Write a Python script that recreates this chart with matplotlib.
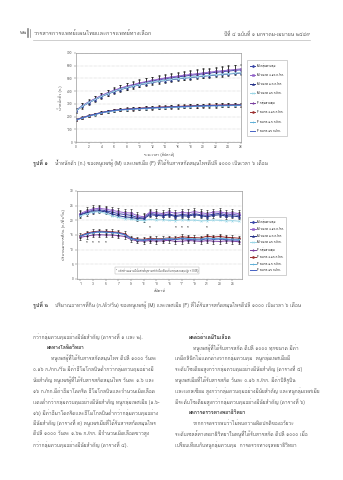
import matplotlib
matplotlib.use("Agg")
import matplotlib.pyplot as plt
from matplotlib import font_manager
from matplotlib.ft2font import FT2Font

# ---- data -----------------------------------------------------------
WEEKS_BW = list(range(0, 27))
BW_M_CTRL = [247, 283, 313, 338, 362, 385, 403, 420, 434, 447, 459, 470, 480, 489,
             497, 505, 512, 518, 524, 530, 536, 542, 548, 553, 558, 563, 568]
BW_M_D1 = [249, 286, 316, 341, 366, 388, 407, 424, 439, 452, 464, 475, 485, 494,
           503, 511, 518, 525, 531, 537, 543, 549, 555, 560, 565, 570, 575]
BW_M_D2 = [245, 280, 309, 333, 357, 378, 396, 412, 426, 438, 449, 459, 468, 476,
           483, 490, 496, 502, 507, 512, 517, 522, 527, 531, 535, 539, 543]
BW_M_D3 = [246, 281, 311, 335, 359, 381, 399, 415, 429, 441, 452, 462, 471, 479,
           486, 493, 499, 505, 510, 515, 520, 525, 530, 534, 538, 542, 546]
BW_F_CTRL = [174, 190, 205, 218, 230, 240, 248, 253, 257, 260, 263, 266, 268, 271,
             273, 275, 277, 279, 281, 283, 284, 286, 287, 288, 289, 290, 291]
BW_F_D1 = [176, 192, 207, 220, 232, 242, 250, 255, 259, 263, 266, 269, 271, 274,
           276, 278, 280, 282, 284, 286, 287, 289, 290, 291, 292, 293, 294]
BW_F_D2 = [172, 188, 203, 216, 228, 238, 246, 251, 255, 258, 261, 263, 266, 268,
           270, 272, 274, 276, 278, 280, 281, 283, 284, 285, 286, 287, 288]
BW_F_D3 = [175, 191, 206, 219, 231, 241, 249, 254, 258, 261, 264, 267, 269, 272,
           274, 276, 278, 280, 282, 284, 285, 287, 288, 289, 290, 291, 292]
BW_SD_M = [18, 20, 21, 22, 23, 24, 25, 26, 27, 28, 29, 30, 30, 31, 32, 32, 33, 34,
           34, 35, 36, 36, 37, 38, 38, 39, 40]
BW_SD_F = [10, 10, 11, 11, 12, 12, 12, 13, 13, 13, 13, 14, 14, 14, 14, 14, 15, 15,
           15, 15, 15, 16, 16, 16, 16, 16, 16]

WEEKS_FI = list(range(1, 27))
FI_M_CTRL = [22.0, 22.8, 23.4, 23.6, 23.3, 22.8, 22.3, 22.0, 21.7, 21.0, 20.8, 22.4, 22.0,
             21.8, 22.2, 21.6, 22.0, 21.8, 22.3, 21.9, 21.7, 22.1, 22.4, 21.8, 22.0, 21.7]
FI_M_D1 = [22.3, 23.2, 23.9, 24.1, 23.8, 23.4, 23.0, 22.6, 22.5, 21.6, 21.2, 22.8, 22.6,
           22.3, 22.9, 22.4, 22.7, 22.5, 23.0, 22.6, 22.3, 22.8, 22.9, 22.4, 22.6, 22.3]
FI_M_D2 = [21.8, 22.5, 23.0, 23.2, 22.9, 22.2, 21.6, 21.2, 21.0, 20.6, 20.5, 21.9, 21.7,
           21.5, 21.9, 21.3, 21.6, 21.4, 21.9, 21.6, 21.2, 21.7, 21.9, 21.4, 21.5, 21.2]
FI_M_D3 = [21.5, 22.2, 22.8, 22.9, 22.4, 21.6, 21.0, 20.6, 20.4, 20.0, 19.9, 20.3, 20.1,
           20.2, 20.0, 19.9, 20.2, 20.0, 20.1, 19.8, 19.9, 20.1, 20.0, 19.8, 19.9, 19.7]
FI_F_CTRL = [14.2, 14.6, 15.0, 15.1, 15.0, 15.0, 14.8, 14.5, 13.5, 13.0, 12.9, 13.1, 12.9,
             13.0, 13.2, 12.8, 12.9, 13.1, 13.0, 12.8, 13.1, 12.9, 12.8, 13.0, 12.9, 12.7]
FI_F_D1 = [14.8, 15.6, 16.1, 16.3, 16.2, 16.1, 15.9, 15.4, 14.0, 13.6, 13.5, 13.9, 13.7,
           13.8, 14.0, 13.9, 14.4, 14.2, 14.1, 14.0, 14.6, 14.3, 14.5, 14.2, 14.1, 13.9]
FI_F_D2 = [14.6, 15.3, 15.8, 16.0, 15.9, 15.8, 15.6, 15.1, 13.8, 13.4, 13.3, 13.6, 13.5,
           13.6, 13.8, 13.6, 13.9, 13.8, 13.7, 13.6, 14.0, 13.8, 13.9, 13.7, 13.6, 13.5]
FI_F_D3 = [14.5, 15.4, 15.9, 16.1, 16.0, 15.9, 15.7, 15.2, 13.9, 13.3, 13.2, 13.5, 13.3,
           13.4, 13.6, 13.4, 13.7, 13.5, 13.4, 13.3, 13.7, 13.5, 13.6, 13.4, 13.3, 13.2]
FI_SD_M = 1.2
FI_SD_F = 0.8
# weeks marked with * (significant vs control)
STAR_LOW_WEEKS = [2, 3, 4, 5]
STAR_LOW_Y = 12.4
STAR_MID_WEEKS = [12, 16, 17, 18, 21]
STAR_MID_Y = 17.3

LABELS = ["M กลุ่มควบคุม", "M ขนาด ๐.๑๖ ก./กก.", "M ขนาด ๑.๖ ก./กก.", "M ขนาด ๑๖ ก./กก.",
          "F กลุ่มควบคุม", "F ขนาด ๐.๑๖ ก./กก.", "F ขนาด ๑.๖ ก./กก.", "F ขนาด ๑๖ ก./กก."]

HEADER_LEFT = "วารสารการแพทย์แผนไทยและการแพทย์ทางเลือก"
HEADER_RIGHT = "ปีที่ ๔ ฉบับที่ ๑ มกราคม-เมษายน ๒๕๔๙"
CAP1 = ("น้ำหนักตัว (ก.) ของหนูเพศผู้ (M) และเพศเมีย (F) ที่ได้รับสารสกัดสมุนไพรดีปลี "
        "๑๐๐๐ เป็นเวลา ๖ เดือน")
CAP2 = ("ปริมาณอาหารที่กิน (ก./ตัว/วัน) ของหนูเพศผู้ (M) และเพศเมีย (F) "
        "ที่ได้รับสารสกัดสมุนไพรดีปลี ๑๐๐๐ เป็นเวลา ๖ เดือน")
NOTE = "* แตกต่างอย่างมีนัยสำคัญทางสถิติเมื่อเทียบกับกลุ่มควบคุม (p < 0.05)"

LEFT_COL = [
    ("กว่ากลุ่มควบคุมอย่างมีนัยสำคัญ (ตารางที่ ๑ และ ๒).", 0, False),
    ("ผลทางโลหิตวิทยา", 1, True),
    ("หนูเพศผู้ที่ได้รับสารสกัดสมุนไพร ดีปลี ๑๐๐๐ วันละ", 2, False),
    ("๐.๑๖ ก./กก./วัน มีค่าฮีโมโกลบินต่ำกว่ากลุ่มควบคุมอย่างมี", 0, False),
    ("นัยสำคัญ หนูเพศผู้ที่ได้รับสารสกัดสมุนไพร วันละ ๑.๖ และ", 0, False),
    ("๑๖ ก./กก.มีค่าฮีมาโตคริต ฮีโมโกลบินและจำนวนเม็ดเลือด", 0, False),
    ("แดงต่ำกว่ากลุ่มควบคุมอย่างมีนัยสำคัญ หนูกลุ่มเพศเมีย (๑.๖-", 0, False),
    ("๑๖) มีค่าฮีมาโตคริตและฮีโมโกลบินต่ำกว่ากลุ่มควบคุมอย่าง", 0, False),
    ("มีนัยสำคัญ (ตารางที่ ๓) หนูเพศเมียที่ได้รับสารสกัดสมุนไพร", 0, False),
    ("ดีปลี ๑๐๐๐ วันละ ๑.๖๒ ก./กก. มีจำนวนเม็ดเลือดขาวสูง", 0, False),
    ("กว่ากลุ่มควบคุมอย่างมีนัยสำคัญ (ตารางที่ ๔).", 0, False),
]
RIGHT_COL = [
    ("ผลต่อค่าเคมีในเลือด", 1, True),
    ("หนูเพศผู้ที่ได้รับสารสกัด ดีปลี ๑๐๐๐ ทุกขนาด มีค่า", 2, False),
    ("เคมีคลินิกไม่แตกต่างจากกลุ่มควบคุม  หนูกลุ่มเพศเมียมี", 0, False),
    ("ระดับโซเดียมสูงกว่ากลุ่มควบคุมอย่างมีนัยสำคัญ (ตารางที่ ๕)", 0, False),
    ("หนูเพศเมียที่ได้รับสารสกัด วันละ ๐.๑๖ ก./กก. มีค่าบิลิรูบิน", 0, False),
    ("และแคลเซียม สูงกว่ากลุ่มควบคุมอย่างมีนัยสำคัญ และหนูกลุ่มเพศเมีย", 0, False),
    ("มีระดับโซเดียมสูงกว่ากลุ่มควบคุมอย่างมีนัยสำคัญ (ตารางที่ ๖)", 0, False),
    ("ผลการตรวจทางพยาธิวิทยา", 1, True),
    ("จากการตรวจพบว่าไม่พบความผิดปกติของอวัยวะ", 2, False),
    ("ระดับเซลล์ทางพยาธิวิทยาในหนูที่ได้รับสารสกัด ดีปลี ๑๐๐๐ เมื่อ", 0, False),
    ("เปรียบเทียบกับหนูกลุ่มควบคุม  การตรวจทางจุลพยาธิวิทยา", 0, False),
]

COLORS = ["#3b48a8", "#9263c8", "#26338a", "#9ad6e6", "#7a3fa0", "#9c2f2f", "#5fb0d8", "#4662c4"]
MARKERS = ["D", "s", "^", "x", "*", "o", "+", ""]


def thai_font():
    # first installed family that actually has Thai glyphs
    for f in font_manager.fontManager.ttflist:
        try:
            if FT2Font(f.fname).get_char_index(0x0E01):
                return f.name
        except Exception:
            continue
    return "DejaVu Sans"


TH = thai_font()
plt.rcParams["font.family"] = [TH, "DejaVu Sans"]

W, H = 343, 480
fig = plt.figure(figsize=(W / 100, H / 100), dpi=100)


def px(x, y):
    return x / W, 1 - y / H


def put(x, y, s, **kw):
    fx, fy = px(x, y)
    fig.text(fx, fy, s, **kw)


TXT = "#555555"

# header
put(20, 33, "๒๒", fontsize=4, color=TXT, va="center")
fig.add_artist(plt.Line2D([28 / W, 28 / W], px(0, 29)[1:] + px(0, 37)[1:],
                          color="#888888", lw=1.2))
fig.add_artist(plt.Line2D([30 / W, 30 / W], px(0, 29)[1:] + px(0, 37)[1:],
                          color="#888888", lw=0.5))
put(34, 33, HEADER_LEFT, fontsize=4, color=TXT, va="center")
put(310, 34, HEADER_RIGHT, fontsize=3.6, color=TXT, va="center", ha="right")
fig.add_artist(plt.Line2D([33 / W, 310 / W], [1 - 40 / H, 1 - 40 / H], color="#bbbbbb", lw=0.5))


def style_axes(ax):
    for sp in ax.spines.values():
        sp.set_color("#9a9a9a")
        sp.set_linewidth(0.5)
    ax.tick_params(labelsize=2.4, length=1.2, width=0.3, pad=1.2, colors="#555555")
    ax.yaxis.grid(True, ls=":", lw=0.35, color="#aaaaaa")
    ax.set_axisbelow(True)


def draw_series(ax, x, ys, sds):
    handles = []
    for i, y in enumerate(ys):
        h, = ax.plot(x, y, color=COLORS[i], marker=MARKERS[i], ms=1.4, mew=0.4, lw=0.7,
                     label=LABELS[i])
        handles.append(h)
        if sds[i] is not None:
            ax.errorbar(x, y, yerr=sds[i], fmt="none", ecolor="#111111", elinewidth=0.4,
                        capsize=0.9, capthick=0.4)
    return handles


def small_legend(handles, x, y, spacing, pad):
    lg = fig.legend(handles=handles, loc="upper left", bbox_to_anchor=px(x, y), fontsize=2.1,
                    frameon=True, handlelength=1.8, handletextpad=0.5, labelspacing=spacing,
                    borderpad=pad, borderaxespad=0, fancybox=False, edgecolor="#9a9a9a")
    lg.get_frame().set_linewidth(0.4)
    return lg


# ---- figure 1: body weight -----------------------------------------
l, b = px(76, 142)
ax1 = fig.add_axes([l, b, 165 / W, 89 / H])
h1 = draw_series(ax1, WEEKS_BW,
                 [BW_M_CTRL, BW_M_D1, BW_M_D2, BW_M_D3, BW_F_CTRL, BW_F_D1, BW_F_D2, BW_F_D3],
                 [BW_SD_M, BW_SD_M, None, None, BW_SD_F, BW_SD_F, None, None])
ax1.set_xlim(0, 26)
ax1.set_ylim(0, 700)
ax1.set_xticks(range(0, 27, 2))
ax1.set_yticks(range(0, 701, 100))
style_axes(ax1)
ax1.set_xlabel("ระยะเวลา (สัปดาห์)", fontsize=2.6, labelpad=2, color="#444444")
ax1.set_ylabel("น้ำหนักตัว (ก.)", fontsize=2.8, labelpad=3, color="#444444")
small_legend(h1, 247, 60, 1.75, 1.1)

put(33, 163, "รูปที่ ๑", fontsize=3.8, fontweight="bold", color="#333333", va="center")
put(55, 163, CAP1, fontsize=3.5, color=TXT, va="center")

# ---- figure 2: food intake -----------------------------------------
l, b = px(77, 279)
ax2 = fig.add_axes([l, b, 165 / W, 88 / H])
h2 = draw_series(ax2, WEEKS_FI,
                 [FI_M_CTRL, FI_M_D1, FI_M_D2, FI_M_D3, FI_F_CTRL, FI_F_D1, FI_F_D2, FI_F_D3],
                 [FI_SD_M, FI_SD_M, None, None, FI_SD_F, FI_SD_F, None, None])
ax2.set_xlim(0.5, 26.5)
ax2.set_ylim(0, 30)
ax2.set_xticks(range(1, 27, 2))
ax2.set_yticks(range(0, 31, 5))
style_axes(ax2)
ax2.set_xlabel("สัปดาห์", fontsize=2.8, labelpad=2, color="#444444")
ax2.set_ylabel("ปริมาณอาหารที่กิน (ก./ตัว/วัน)", fontsize=2.8, labelpad=3, color="#444444")
for w in STAR_LOW_WEEKS:
    ax2.text(w, STAR_LOW_Y, "*", fontsize=3.5, ha="center", va="center", color="#222222")
for w in STAR_MID_WEEKS:
    ax2.text(w, STAR_MID_Y, "*", fontsize=3.5, ha="center", va="center", color="#222222")
ax2.text(6.6, 3.0, NOTE, fontsize=2.0, color="#444444", va="center",
         bbox=dict(boxstyle="square,pad=0.4", fc="white", ec="#aaaaaa", lw=0.3))
small_legend(h2, 248, 217, 0.95, 0.8)

put(33, 305, "รูปที่ ๒", fontsize=3.8, fontweight="bold", color="#333333", va="center")
put(55, 305, CAP2, fontsize=3.5, color=TXT, va="center")

# ---- body text, two columns ----------------------------------------
LINE0, STEP = 337, 10.8
for col_x, lines in ((33, LEFT_COL), (175, RIGHT_COL)):
    for i, (s, indent, bold) in enumerate(lines):
        x = col_x + (14 if indent else 0) + (4 if indent == 2 else 0)
        put(x, LINE0 + i * STEP, s, fontsize=3.5, va="center",
            color="#333333" if bold else TXT, fontweight="bold" if bold else "normal")

fig.savefig("out.png", dpi=100)
